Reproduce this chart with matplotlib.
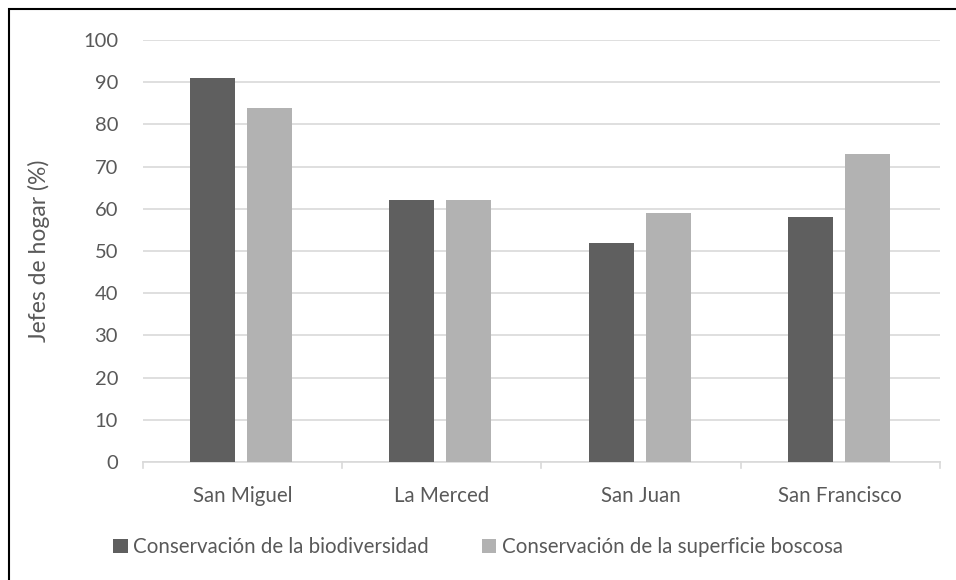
import numpy as np
import matplotlib
matplotlib.use('Agg')
import matplotlib.pyplot as plt
from matplotlib.patches import Rectangle

plt.rcParams['font.family'] = ['Lato', 'DejaVu Sans']

categories = ['San Miguel', 'La Merced', 'San Juan', 'San Francisco']
biodiversidad = [91, 62, 52, 58]
superficie = [84, 62, 59, 73]
series_names = ['Conservación de la biodiversidad',
                'Conservación de la superficie boscosa']
yticks = list(range(0, 101, 10))

dark = '#5f5f5f'
light = '#b2b2b2'
txt = '#595959'
grid = '#d9d9d9'

fig = plt.figure(figsize=(9.56, 5.8), dpi=100)
ax = fig.add_axes([0.1496, 0.2034, 0.8334, 0.7276])

x = np.arange(len(categories))
w = 0.226
ax.bar(x - 0.15, biodiversidad, w, color=dark, label=series_names[0], zorder=3)
ax.bar(x + 0.136, superficie, w, color=light, label=series_names[1], zorder=3)

ax.set_xlim(-0.5, len(categories) - 0.5)
ax.set_ylim(0, 100)
ax.set_yticks(yticks)
ax.set_xticks(x)
ax.set_xticklabels(categories)
ax.yaxis.grid(True, color=grid, linewidth=1.2, zorder=0)
ax.set_axisbelow(True)

for s in ['top', 'right', 'left']:
  ax.spines[s].set_visible(False)
ax.spines['bottom'].set_color(grid)
ax.spines['bottom'].set_linewidth(1.2)

ax.tick_params(axis='y', length=0, pad=18, labelsize=14.5, labelcolor=txt)
ax.tick_params(axis='x', length=0, pad=17, labelsize=14.8, labelcolor=txt)

# category separator ticks on the x axis
for b in np.arange(-0.5, len(categories), 1.0):
  ax.plot([b, b], [0, -1.5], color=grid, lw=1.2, clip_on=False, zorder=2)

ax.set_ylabel('Jefes de hogar (%)', fontsize=16.5, color=txt, labelpad=24)

fig.legend(*ax.get_legend_handles_labels(), loc='center',
           bbox_to_anchor=(0.5, 1 - 547 / 580), ncol=2, frameon=False,
           fontsize=14.8, labelcolor=txt, handlelength=0.7, handleheight=0.7,
           handletextpad=0.25, columnspacing=2.6)

# outer chart frame
fig.patches.append(Rectangle((9 / 956, -0.1), 1.2, 1 - 9 / 580 + 0.1,
                             transform=fig.transFigure, fill=False,
                             edgecolor='black', linewidth=1.5))

fig.savefig('out.png', dpi=100)
